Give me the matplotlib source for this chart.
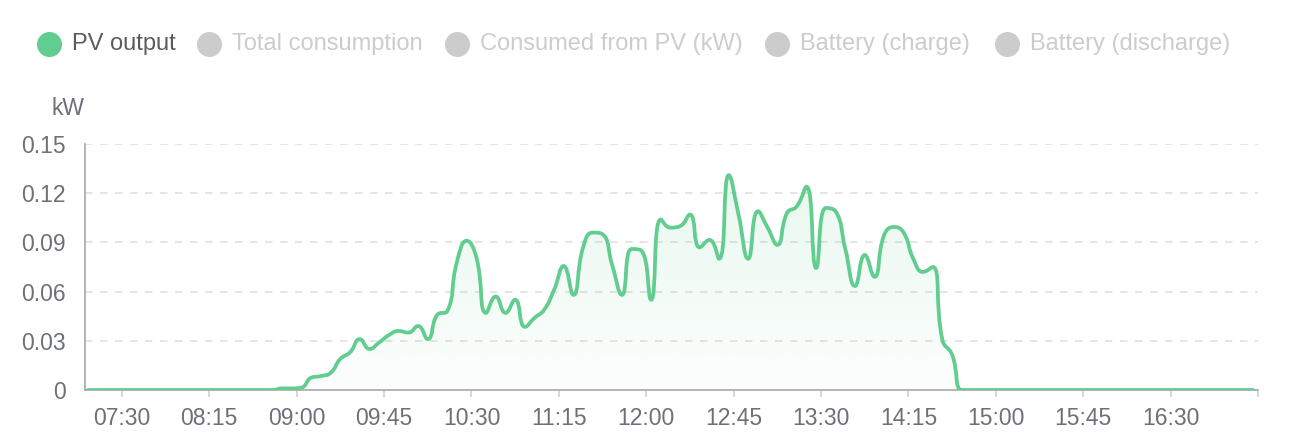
import numpy as np
import matplotlib
matplotlib.use("Agg")
import matplotlib.pyplot as plt
from matplotlib.path import Path
from matplotlib.patches import PathPatch
from matplotlib.lines import Line2D

plt.rcParams['font.family'] = ['Liberation Sans', 'DejaVu Sans']

# ---------------- data ----------------
# sample times: every 5 minutes starting 07:12:30 (minutes since midnight)
start_min = 7 * 60 + 12.5
step_min = 5
pv_output = [
    0, 0, 0, 0, 0, 0, 0, 0, 0, 0,
    0, 0, 0, 0, 0, 0, 0, 0,
    0, 0, 0.001, 0.001, 0.0015, 0.0075, 0.0085, 0.0105, 0.019, 0.023,
    0.031, 0.025, 0.029, 0.0335, 0.036, 0.035, 0.039, 0.031, 0.046, 0.048,
    0.078, 0.091, 0.081, 0.047, 0.057, 0.047, 0.055, 0.0385, 0.044, 0.049,
    0.061, 0.0756, 0.058, 0.087, 0.096, 0.095, 0.076, 0.058, 0.086, 0.085,
    0.055, 0.104, 0.099, 0.100, 0.107, 0.087, 0.0915, 0.080, 0.131, 0.107,
    0.080, 0.109, 0.099, 0.0885, 0.108, 0.112, 0.124, 0.0744, 0.111, 0.109,
    0.086, 0.0634, 0.0823, 0.069, 0.0945, 0.0994, 0.096, 0.080, 0.072, 0.075,
    0.0305, 0.0215, 0,
    0, 0, 0, 0, 0, 0, 0, 0, 0, 0,
    0, 0, 0, 0, 0, 0, 0, 0, 0, 0,
    0, 0, 0, 0, 0, 0, 0, 0, 0, 0,
]
times = [start_min + step_min * i for i in range(len(pv_output))]

tick_labels = ["07:30", "08:15", "09:00", "09:45", "10:30", "11:15",
               "12:00", "12:45", "13:30", "14:15", "15:00", "15:45", "16:30"]
y_ticks = [0, 0.03, 0.06, 0.09, 0.12, 0.15]
y_tick_labels = ["0", "0.03", "0.06", "0.09", "0.12", "0.15"]
legend_items = ["PV output", "Total consumption", "Consumed from PV (kW)",
                "Battery (charge)", "Battery (discharge)"]
legend_active = [True, False, False, False, False]

def hm_to_min(s):
    h, m = s.split(":")
    return int(h) * 60 + int(m)

x_min = 7 * 60 + 11
x_max = 17 * 60 + 15
y_min, y_max = 0, 0.15

# ---------------- figure ----------------
W, H = 1296, 436
fig = plt.figure(figsize=(W / 100, H / 100), dpi=100)
ax_l, ax_r, ax_t, ax_b = 85, 1258, 144, 390
ax = fig.add_axes([ax_l / W, (H - ax_b) / H, (ax_r - ax_l) / W, (ax_b - ax_t) / H])
ax.set_xlim(x_min, x_max)
ax.set_ylim(y_min, y_max)

# pixel scales for smoothing (ECharts-like bezier smoothing)
sx = (ax_r - ax_l) / (x_max - x_min)
sy = (ax_b - ax_t) / (y_max - y_min)

def smooth_verts(xs, ys, smooth=0.5):
    P = [(x * sx, y * sy) for x, y in zip(xs, ys)]
    verts = [P[0]]
    codes = [Path.MOVETO]
    cp0 = P[0]
    n = len(P)
    for i in range(1, n):
        x, y = P[i]
        px, py = P[i - 1]
        if i == n - 1:
            cp1 = (x, y)
            ncp = (x, y)
        else:
            nx, ny = P[i + 1]
            vx, vy = nx - px, ny - py
            lp = np.hypot(x - px, y - py)
            ln = np.hypot(nx - x, ny - y)
            r = ln / (ln + lp)
            ncx = x + vx * smooth * r
            ncy = y + vy * smooth * r
            ncx = max(min(ncx, max(nx, x)), min(nx, x))
            ncy = max(min(ncy, max(ny, y)), min(ny, y))
            vx, vy = ncx - x, ncy - y
            c1x = x - vx * lp / ln
            c1y = y - vy * lp / ln
            c1x = max(min(c1x, max(px, x)), min(px, x))
            c1y = max(min(c1y, max(py, y)), min(py, y))
            vx, vy = x - c1x, y - c1y
            ncp = (x + vx * ln / lp, y + vy * ln / lp)
            cp1 = (c1x, c1y)
        verts += [cp0, cp1, (x, y)]
        codes += [Path.CURVE4] * 3
        cp0 = ncp
    verts = [(vx_ / sx, vy_ / sy) for vx_, vy_ in verts]
    return verts, codes

verts, codes = smooth_verts(times, pv_output)
line_color = "#61cd8e"

# area fill with vertical gradient
area_verts = verts + [(times[-1], 0), (times[0], 0), (times[0], 0)]
area_codes = codes + [Path.LINETO, Path.LINETO, Path.CLOSEPOLY]
area_patch = PathPatch(Path(area_verts, area_codes), facecolor="none", edgecolor="none")
ax.add_patch(area_patch)
top = max(pv_output)
grad = np.zeros((256, 1, 4))
rgb = matplotlib.colors.to_rgb(line_color)
grad[:, 0, 0] = rgb[0]
grad[:, 0, 1] = rgb[1]
grad[:, 0, 2] = rgb[2]
grad[:, 0, 3] = np.linspace(0.14, 0.02, 256)
img = ax.imshow(grad, extent=[times[0], times[-1], 0, top], origin="upper",
                aspect="auto", zorder=1, interpolation="bilinear")
img.set_clip_path(area_patch)

line_patch = PathPatch(Path(verts, codes), facecolor="none", edgecolor=line_color,
                       linewidth=2.7, zorder=3, capstyle="round", joinstyle="round")
ax.add_patch(line_patch)

# grid
for yv in y_ticks[1:]:
    ax.axhline(yv, color="#e0e0e0", linewidth=1.2, dashes=(4.5, 4.5), zorder=0.5)

# spines
for s in ["top", "right"]:
    ax.spines[s].set_visible(False)
ax.spines["left"].set_color("#a8a8a8")
ax.spines["bottom"].set_color("#a8a8a8")
ax.spines["left"].set_linewidth(1.2)
ax.spines["bottom"].set_linewidth(1.2)

tick_pos = [hm_to_min(s) for s in tick_labels]
ax.set_xticks(tick_pos + [x_max])
ax.set_xticklabels(tick_labels + [""])
ax.tick_params(axis="x", length=5, width=1.2, color="#d0d0d0", pad=7,
               labelsize=16.5, labelcolor="#6e7079")
ax.set_yticks(y_ticks)
ax.set_yticklabels(y_tick_labels)
ax.tick_params(axis="y", length=0, pad=14, labelsize=16.5, labelcolor="#6e7079")

fig.text(68 / W, 1 - 108 / H, "kW", ha="center", va="center", fontsize=16.5, color="#6e7079")

# legend
circle_x = [49, 209, 457, 777, 1007]
for cx, label, active in zip(circle_x, legend_items, legend_active):
    col = line_color if active else "#cccccc"
    tcol = "#5c5c5c" if active else "#cccccc"
    fig.add_artist(Line2D([cx / W], [1 - 44 / H], marker="o", markersize=17,
                          markerfacecolor=col, markeredgecolor=col,
                          linestyle="none", transform=fig.transFigure))
    fig.text((cx + 23) / W, 1 - 44 / H, label, ha="left", va="center",
             fontsize=17, color=tcol)

fig.savefig("out.png", dpi=100)
